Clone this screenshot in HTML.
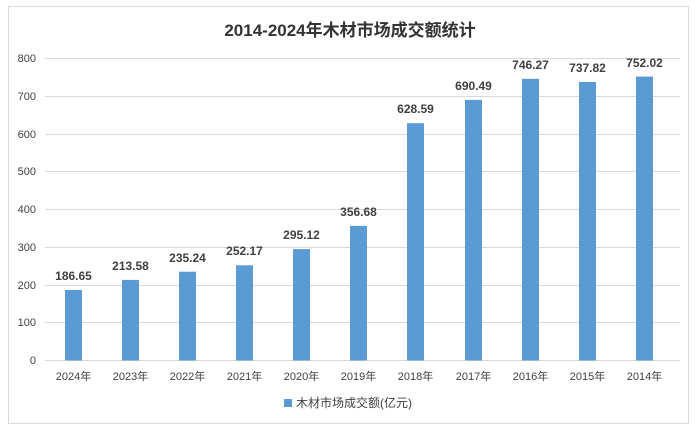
<!DOCTYPE html>
<html><head><meta charset="utf-8"><style>
body{margin:0;background:#fff;}
svg{display:block;font-family:"Liberation Sans","Noto Sans CJK SC",sans-serif;}
</style></head><body>
<svg width="697" height="431" viewBox="0 0 697 431">
<rect x="8.5" y="6.5" width="680" height="417" fill="#fff" stroke="#d9d9d9"/>
<text x="350" y="36" text-anchor="middle" font-size="17" font-weight="bold" fill="#333">2014-2024年木材市场成交额统计</text>
<g stroke="#d9d9d9" stroke-width="1">
<line x1="45" x2="680" y1="58.5" y2="58.5"/><line x1="45" x2="680" y1="96.5" y2="96.5"/>
<line x1="45" x2="680" y1="134.5" y2="134.5"/><line x1="45" x2="680" y1="171.5" y2="171.5"/>
<line x1="45" x2="680" y1="209.5" y2="209.5"/><line x1="45" x2="680" y1="247.5" y2="247.5"/>
<line x1="45" x2="680" y1="285.5" y2="285.5"/><line x1="45" x2="680" y1="322.5" y2="322.5"/>
<line x1="45" x2="680" y1="360.5" y2="360.5"/>
</g>
<g font-size="11" fill="#404040" text-anchor="end">
<text x="36" y="62">800</text><text x="36" y="100">700</text><text x="36" y="138">600</text>
<text x="36" y="175">500</text><text x="36" y="213">400</text><text x="36" y="251">300</text>
<text x="36" y="289">200</text><text x="36" y="326">100</text><text x="36" y="364">0</text>
</g>
<g id="bars"></g>
<g fill="#5b9bd5">
<rect x="65" y="290.0" width="17" height="70.5"/>
<rect x="122" y="279.9" width="17" height="80.6"/>
<rect x="179" y="271.7" width="17" height="88.8"/>
<rect x="236" y="265.3" width="17" height="95.2"/>
<rect x="293" y="249.1" width="17" height="111.4"/>
<rect x="350" y="225.9" width="17" height="134.6"/>
<rect x="407" y="123.2" width="17" height="237.3"/>
<rect x="465" y="99.9" width="17" height="260.6"/>
<rect x="522" y="78.8" width="17" height="281.7"/>
<rect x="579" y="82.0" width="17" height="278.5"/>
<rect x="636" y="76.6" width="17" height="283.9"/>
</g>
<g font-size="12" font-weight="bold" fill="#404040" text-anchor="middle">
<text x="73.5" y="280">186.65</text><text x="130.5" y="270">213.58</text>
<text x="187.5" y="262">235.24</text><text x="244.5" y="255">252.17</text>
<text x="301.5" y="239">295.12</text><text x="358.5" y="216">356.68</text>
<text x="415.5" y="113">628.59</text><text x="473.5" y="90">690.49</text>
<text x="530.5" y="69">746.27</text><text x="587.5" y="72">737.82</text>
<text x="644.5" y="67">752.02</text>
</g>
<g font-size="11" fill="#404040" text-anchor="middle">
<text x="73.5" y="380">2024年</text><text x="130.5" y="380">2023年</text><text x="187.5" y="380">2022年</text>
<text x="244.5" y="380">2021年</text><text x="301.5" y="380">2020年</text><text x="358.5" y="380">2019年</text>
<text x="415.5" y="380">2018年</text><text x="473.5" y="380">2017年</text><text x="530.5" y="380">2016年</text>
<text x="587.5" y="380">2015年</text><text x="644.5" y="380">2014年</text>
</g>
<rect x="284" y="399" width="8" height="8" fill="#5b9bd5"/>
<text x="296" y="407" font-size="12" fill="#404040">木材市场成交额(亿元)</text>
</svg>
</body></html>
